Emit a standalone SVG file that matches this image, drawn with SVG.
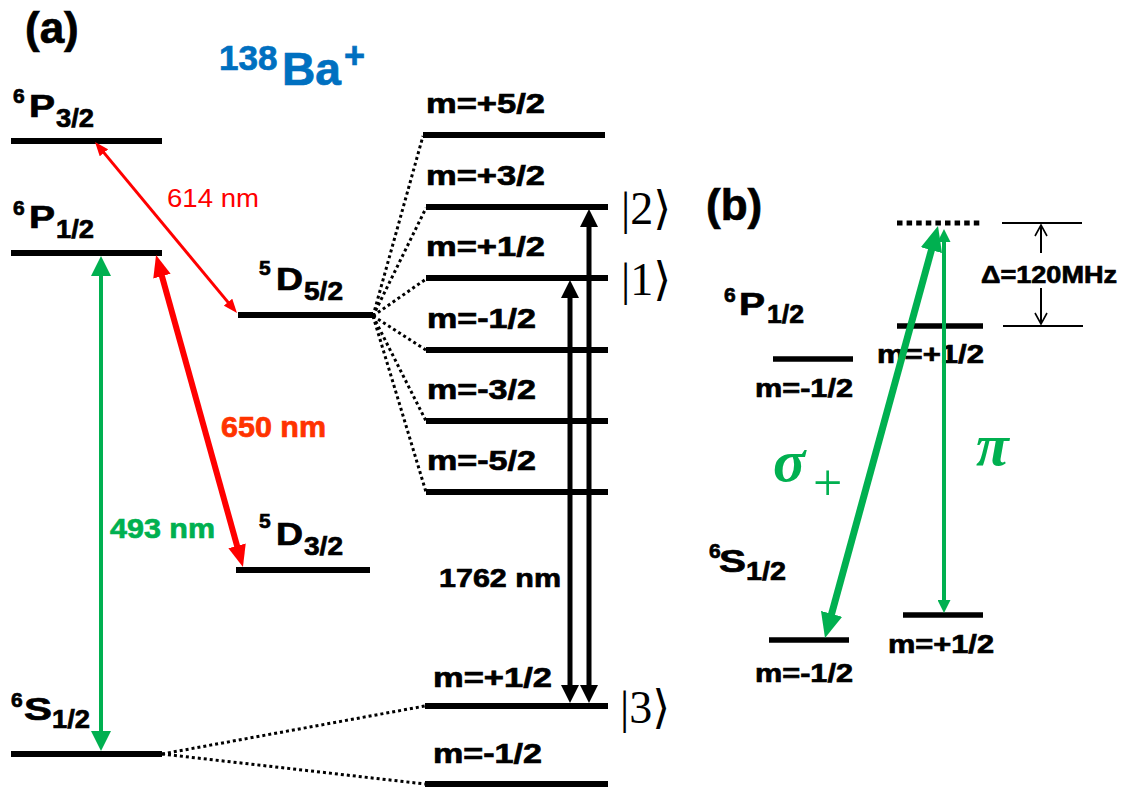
<svg xmlns="http://www.w3.org/2000/svg" width="1126" height="787" viewBox="0 0 1126 787">
<style>
.lv{stroke:#000;stroke-width:6;fill:none}
.lvb{stroke:#000;stroke-width:5.5;fill:none}
.dot{stroke:#000;stroke-width:3;stroke-dasharray:3 3;fill:none}
.t{font-family:"Liberation Sans",Arial,sans-serif;font-weight:bold;fill:#000;stroke:#000;stroke-width:0.7}
.r{font-family:"Liberation Sans",Arial,sans-serif;font-weight:normal}
.ket{font-family:"Liberation Serif","DejaVu Serif","DejaVu Sans",serif;font-size:46px;fill:#000}
.gr{font-family:"Liberation Serif","DejaVu Serif",serif;font-weight:bold;font-style:italic;fill:#00B050}
.blue{fill:#0070C0;stroke:#0070C0}
</style>
<defs>
<marker id="mR614" viewBox="0 0 14 11" refX="7" refY="5.5" markerWidth="14" markerHeight="11" markerUnits="userSpaceOnUse" orient="auto-start-reverse"><path d="M0,0 L14,5.5 L0,11 z" fill="#FF0000"/></marker>
<marker id="mR650" viewBox="0 0 22 18" refX="11" refY="9" markerWidth="22" markerHeight="18" markerUnits="userSpaceOnUse" orient="auto-start-reverse"><path d="M0,0 L22,9 L0,18 z" fill="#FF0000"/></marker>
<marker id="mG493" viewBox="0 0 20 20" refX="10" refY="10" markerWidth="20" markerHeight="20" markerUnits="userSpaceOnUse" orient="auto-start-reverse"><path d="M0,0 L20,10 L0,20 z" fill="#00B050"/></marker>
<marker id="mK" viewBox="0 0 18 18" refX="9" refY="9" markerWidth="18" markerHeight="18" markerUnits="userSpaceOnUse" orient="auto-start-reverse"><path d="M0,0 L18,9 L0,18 z" fill="#000"/></marker>
<marker id="mGs" viewBox="0 0 25 22" refX="12.5" refY="11" markerWidth="25" markerHeight="22" markerUnits="userSpaceOnUse" orient="auto-start-reverse"><path d="M0,0 L25,11 L0,22 z" fill="#00B050"/></marker>
<marker id="mGp" viewBox="0 0 13 13" refX="6.5" refY="6.5" markerWidth="13" markerHeight="13" markerUnits="userSpaceOnUse" orient="auto-start-reverse"><path d="M0,0 L13,6.5 L0,13 z" fill="#00B050"/></marker>
<marker id="mOpen" viewBox="-1 -1 13 14" refX="11" refY="6" markerWidth="13" markerHeight="14" markerUnits="userSpaceOnUse" orient="auto"><path d="M0,0 L11,6 L0,12" fill="none" stroke="#000" stroke-width="1.6"/></marker>
</defs>

<g id="titles">
<text class="t" x="25" y="43" font-size="44">(a)</text>
<text class="t" x="706" y="220" font-size="44">(b)</text>
<text class="t blue" x="219" y="70" font-size="35">138</text>
<text class="t blue" x="282" y="85" font-size="46" textLength="59" lengthAdjust="spacingAndGlyphs">Ba</text>
<text class="t blue" x="344" y="68" font-size="36">+</text>
</g>

<!-- panel (a) levels -->
<g id="lvl-6P32">
<line class="lv" x1="11" y1="141" x2="162" y2="141"/>
<text class="t" x="13" y="103" font-size="21">6</text>
<text class="t" x="29" y="117" font-size="31" textLength="26" lengthAdjust="spacingAndGlyphs">P</text>
<text class="t" x="56" y="127" font-size="26" textLength="38" lengthAdjust="spacingAndGlyphs">3/2</text>
</g>
<g id="lvl-6P12">
<line class="lv" x1="11" y1="253" x2="162" y2="253"/>
<text class="t" x="13" y="215" font-size="21">6</text>
<text class="t" x="29" y="228" font-size="31" textLength="26" lengthAdjust="spacingAndGlyphs">P</text>
<text class="t" x="56" y="238" font-size="26" textLength="38" lengthAdjust="spacingAndGlyphs">1/2</text>
</g>
<g id="lvl-6S12">
<line class="lv" x1="11" y1="754" x2="162" y2="754"/>
<text class="t" x="11" y="707" font-size="21">6</text>
<text class="t" x="24" y="720" font-size="31" textLength="28" lengthAdjust="spacingAndGlyphs">S</text>
<text class="t" x="52" y="728" font-size="26" textLength="38" lengthAdjust="spacingAndGlyphs">1/2</text>
</g>
<g id="lvl-5D52">
<line class="lv" x1="238" y1="315" x2="373" y2="315"/>
<text class="t" x="259" y="275" font-size="21">5</text>
<text class="t" x="276" y="290" font-size="31" textLength="27" lengthAdjust="spacingAndGlyphs">D</text>
<text class="t" x="304" y="300" font-size="26" textLength="39" lengthAdjust="spacingAndGlyphs">5/2</text>
</g>
<g id="lvl-5D32">
<line class="lv" x1="236" y1="570" x2="370" y2="570"/>
<text class="t" x="259" y="528" font-size="21">5</text>
<text class="t" x="276" y="545" font-size="31" textLength="27" lengthAdjust="spacingAndGlyphs">D</text>
<text class="t" x="304" y="555" font-size="26" textLength="39" lengthAdjust="spacingAndGlyphs">3/2</text>
</g>

<g id="sub-D-p52">
<line class="lv" x1="423" y1="135" x2="605" y2="135"/>
<text class="t" x="426" y="113" font-size="28" textLength="119" lengthAdjust="spacingAndGlyphs">m=+5/2</text>
</g>
<g id="sub-D-p32">
<line class="lv" x1="426" y1="207" x2="608" y2="207"/>
<text class="t" x="426" y="185" font-size="28" textLength="119" lengthAdjust="spacingAndGlyphs">m=+3/2</text>
<text class="ket" x="621" y="224">|2⟩</text>
</g>
<g id="sub-D-p12">
<line class="lv" x1="426" y1="278" x2="608" y2="278"/>
<text class="t" x="426" y="256" font-size="28" textLength="119" lengthAdjust="spacingAndGlyphs">m=+1/2</text>
<text class="ket" x="621" y="295">|1⟩</text>
</g>
<g id="sub-D-m12">
<line class="lv" x1="426" y1="350" x2="608" y2="350"/>
<text class="t" x="427" y="328" font-size="28" textLength="109" lengthAdjust="spacingAndGlyphs">m=-1/2</text>
</g>
<g id="sub-D-m32">
<line class="lv" x1="426" y1="421" x2="608" y2="421"/>
<text class="t" x="427" y="399" font-size="28" textLength="109" lengthAdjust="spacingAndGlyphs">m=-3/2</text>
</g>
<g id="sub-D-m52">
<line class="lv" x1="426" y1="492" x2="608" y2="492"/>
<text class="t" x="427" y="470" font-size="28" textLength="109" lengthAdjust="spacingAndGlyphs">m=-5/2</text>
</g>
<g id="sub-S-p12">
<line class="lv" x1="425" y1="706" x2="608" y2="706"/>
<text class="t" x="433" y="687" font-size="28" textLength="119" lengthAdjust="spacingAndGlyphs">m=+1/2</text>
<text class="ket" x="620" y="723">|3⟩</text>
</g>
<g id="sub-S-m12">
<line class="lv" x1="425" y1="784" x2="608" y2="784"/>
<text class="t" x="433" y="763" font-size="28" textLength="109" lengthAdjust="spacingAndGlyphs">m=-1/2</text>
</g>

<!-- panel (b) levels -->
<g id="b-virtual">
<line x1="897" y1="223" x2="983" y2="223" stroke="#000" stroke-width="5" stroke-dasharray="5.5 4.1"/>
</g>
<g id="b-P-p12">
<line class="lvb" x1="897" y1="326" x2="983" y2="326"/>
<text class="t" x="877" y="363" font-size="26" textLength="107" lengthAdjust="spacingAndGlyphs">m=+1/2</text>
</g>
<g id="b-P-m12">
<line class="lvb" x1="773" y1="359" x2="853" y2="359"/>
<text class="t" x="755" y="397" font-size="26" textLength="98" lengthAdjust="spacingAndGlyphs">m=-1/2</text>
<text class="t" x="724" y="302" font-size="21">6</text>
<text class="t" x="739" y="315" font-size="31" textLength="26" lengthAdjust="spacingAndGlyphs">P</text>
<text class="t" x="767" y="323" font-size="26" textLength="37" lengthAdjust="spacingAndGlyphs">1/2</text>
</g>
<g id="b-S-m12">
<line class="lvb" x1="769" y1="640" x2="849" y2="640"/>
<text class="t" x="755" y="682" font-size="26" textLength="98" lengthAdjust="spacingAndGlyphs">m=-1/2</text>
<text class="t" x="709" y="558" font-size="21">6</text>
<text class="t" x="719" y="572" font-size="31" textLength="27" lengthAdjust="spacingAndGlyphs">S</text>
<text class="t" x="746" y="580" font-size="26" textLength="40" lengthAdjust="spacingAndGlyphs">1/2</text>
</g>
<g id="b-S-p12">
<line class="lvb" x1="903" y1="615" x2="983" y2="615"/>
<text class="t" x="888" y="653" font-size="26" textLength="106" lengthAdjust="spacingAndGlyphs">m=+1/2</text>
</g>
<g id="b-detuning">
<line x1="1002" y1="223" x2="1082" y2="223" stroke="#000" stroke-width="2"/>
<line x1="1003" y1="326" x2="1083" y2="326" stroke="#000" stroke-width="2"/>
<text class="t" x="981" y="283" font-size="24" textLength="136" lengthAdjust="spacingAndGlyphs">Δ=120MHz</text>
</g>

<!-- connectors -->
<g id="connectors">
<g class="fan">
<line class="dot" x1="373" y1="316" x2="423" y2="136"/>
<line class="dot" x1="373" y1="316" x2="426" y2="208"/>
<line class="dot" x1="373" y1="316" x2="426" y2="279"/>
<line class="dot" x1="373" y1="316" x2="426" y2="350"/>
<line class="dot" x1="373" y1="316" x2="426" y2="421"/>
<line class="dot" x1="373" y1="316" x2="426" y2="492"/>
<line class="dot" x1="162" y1="754" x2="425" y2="706"/>
<line class="dot" x1="162" y1="754" x2="425" y2="784"/>
</g>
<line x1="99.5" y1="147.4" x2="232.5" y2="307.6" stroke="#FF0000" stroke-width="3" marker-start="url(#mR614)" marker-end="url(#mR614)"/>
<text class="r" x="167" y="207" font-size="26" fill="#FF0000" textLength="92" lengthAdjust="spacingAndGlyphs">614 nm</text>
<line x1="159" y1="265.6" x2="240" y2="556.4" stroke="#FF0000" stroke-width="6" marker-start="url(#mR650)" marker-end="url(#mR650)"/>
<text class="t" x="221" y="437" font-size="29" style="fill:#FF3300;stroke:#FF3300" textLength="105" lengthAdjust="spacingAndGlyphs">650 nm</text>
<line x1="101" y1="266" x2="101" y2="741" stroke="#00B050" stroke-width="4" marker-start="url(#mG493)" marker-end="url(#mG493)"/>
<text class="t" x="110" y="538" font-size="28" style="fill:#00B050;stroke:#00B050" textLength="105" lengthAdjust="spacingAndGlyphs">493 nm</text>
<line x1="570" y1="289" x2="570" y2="694" stroke="#000" stroke-width="5" marker-start="url(#mK)" marker-end="url(#mK)"/>
<line x1="589" y1="218" x2="589" y2="694" stroke="#000" stroke-width="5" marker-start="url(#mK)" marker-end="url(#mK)"/>
<text class="t" x="439" y="587" font-size="26" textLength="122" lengthAdjust="spacingAndGlyphs">1762 nm</text>
<line x1="934.7" y1="238.1" x2="828.3" y2="625.9" stroke="#00B050" stroke-width="7" marker-start="url(#mGs)" marker-end="url(#mGs)"/>
<line x1="944" y1="235.5" x2="944" y2="606.5" stroke="#00B050" stroke-width="4" marker-start="url(#mGp)" marker-end="url(#mGp)"/>
<text class="gr" x="773" y="481" font-size="60">σ</text>
<text x="813" y="500" font-size="52" fill="#00B050" font-family="Liberation Serif, serif">+</text>
<text class="gr" x="976" y="465" font-size="60">π</text>
<line x1="1041" y1="253" x2="1041" y2="225" stroke="#000" stroke-width="2" marker-end="url(#mOpen)"/>
<line x1="1041" y1="288" x2="1041" y2="324" stroke="#000" stroke-width="2" marker-end="url(#mOpen)"/>
</g>
</svg>
